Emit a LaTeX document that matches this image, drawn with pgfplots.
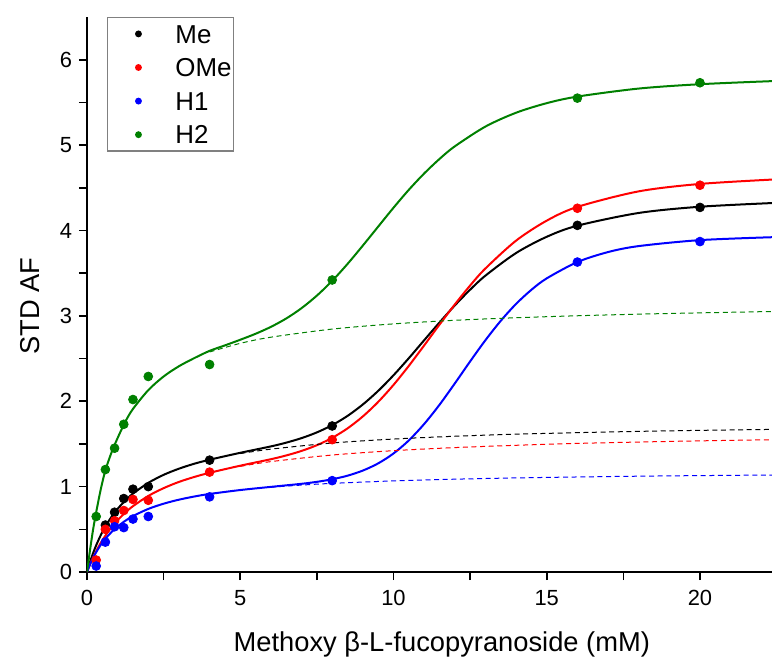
\documentclass[border=0pt]{standalone}
\usepackage{fontspec}
\setmainfont{Liberation Sans}
\usepackage{pgfplots}
\pgfplotsset{compat=1.18}
\definecolor{orgreen}{RGB}{0,128,0}

\begin{document}
\begin{tikzpicture}
\begin{axis}[
    scale only axis, width=342.5bp, height=277.5bp,
    xmin=0, xmax=22.35, ymin=0, ymax=6.5,
    axis x line=bottom, axis y line=left,
    axis line style={line width=1bp, -},
    xtick={0,5,...,20}, ytick={0,1,...,6},
    minor tick num=1,
    tick align=outside,
    major tick length=4bp, minor tick length=4bp,
    every tick/.style={line width=0.8bp, black},
    tick label style={font=\fontsize{11}{13}\selectfont},
    xticklabel shift=1.5bp,
    /pgf/number format/assume math mode=true,
    xlabel={Methoxy β-L-fucopyranoside (mM)},
    ylabel={STD AF},
    label style={font=\fontsize{13.7}{16}\selectfont},
    xlabel style={at={(axis description cs:0.518,-0.144)}, anchor=base},
    ylabel style={at={(axis description cs:-0.083,0.479)}, anchor=center, rotate=0},
    legend style={at={(axis description cs:0.029,1.0)}, anchor=north west,
        draw=gray, line width=0.6bp, inner xsep=0bp, inner ysep=1bp,
        font=\fontsize{13}{16}\selectfont, row sep=2.5bp,
        nodes={inner sep=1bp, text height=10.8bp}},
    legend cell align=left,
    legend image code/.code={\path[draw=none,fill=none] (0bp,0bp) -- (33bp,0bp);
        \draw[#1, mark size=1.4bp] plot coordinates {(15.5bp,0bp)};},
]
% fitted curves (two-site), solid
\addplot[black, line width=1bp, smooth, tension=0.5, forget plot] coordinates {
(0,0) (0.1,0.118) (0.2,0.222) (0.3,0.313) (0.45,0.432) (0.6,0.533) (0.8,0.646)
(1,0.740) (1.25,0.837) (1.5,0.918) (2,1.044) (2.5,1.138) (3,1.210) (3.5,1.268)
(4,1.315) (5,1.396) (6,1.471) (6.5,1.515) (7,1.568) (7.5,1.635) (8,1.720)
(8.5,1.828) (9,1.962) (9.5,2.121) (10,2.304) (10.5,2.504) (11,2.714) (11.5,2.922)
(12,3.122) (12.5,3.306) (13,3.471) (14,3.736) (15,3.926) (16,4.056) (18,4.205)
(20,4.278) (22.35,4.321)};
\addplot[red, line width=1bp, smooth, tension=0.5, forget plot] coordinates {
(0,0) (0.1,0.090) (0.2,0.171) (0.3,0.244) (0.45,0.342) (0.6,0.426) (0.8,0.524)
(1,0.607) (1.25,0.696) (1.5,0.771) (2,0.891) (2.5,0.982) (3,1.055) (3.5,1.113)
(4,1.162) (5,1.245) (6,1.321) (6.5,1.365) (7,1.418) (7.5,1.485) (8,1.571)
(8.5,1.682) (9,1.822) (9.5,1.992) (10,2.191) (10.5,2.414) (11,2.653) (11.5,2.897)
(12,3.133) (12.5,3.355) (13,3.555) (14,3.881) (15,4.115) (16,4.276) (18,4.458)
(20,4.545) (22.35,4.596)};
\addplot[blue, line width=1bp, smooth, tension=0.5, forget plot] coordinates {
(0,0) (0.1,0.089) (0.2,0.166) (0.3,0.232) (0.45,0.318) (0.6,0.389) (0.8,0.468)
(1,0.533) (1.25,0.600) (1.5,0.655) (2,0.739) (2.5,0.800) (3,0.847) (3.5,0.884)
(4,0.914) (5,0.960) (6,0.997) (7,1.033) (7.5,1.056) (8,1.086) (8.5,1.128)
(9,1.188) (9.5,1.272) (10,1.388) (10.5,1.541) (11,1.733) (11.5,1.958) (12,2.208)
(12.5,2.466) (13,2.715) (13.5,2.942) (14,3.140) (14.5,3.305) (15,3.439) (16,3.630)
(17,3.747) (18,3.817) (20,3.887) (22.35,3.921)};
\addplot[orgreen, line width=1bp, smooth, tension=0.5, forget plot] coordinates {
(0,0) (0.1,0.26) (0.2,0.50) (0.3,0.70) (0.45,0.97) (0.6,1.19) (0.8,1.40)
(1,1.57) (1.25,1.76) (1.5,1.91) (2,2.13) (2.5,2.29) (3,2.41) (3.5,2.505)
(4,2.59) (4.5,2.654) (5,2.720) (5.5,2.790) (6,2.871) (6.5,2.969) (7,3.090)
(7.5,3.237) (8,3.410) (8.5,3.608) (9,3.823) (9.5,4.045) (10,4.266) (10.5,4.476)
(11,4.667) (11.5,4.837) (12,4.985) (13,5.217) (14,5.379) (15,5.491) (16,5.568)
(18,5.662) (20,5.713) (22.35,5.749)};
% first-site curves, dashed
\addplot[black, line width=0.5bp, dash pattern=on 2.5bp off 1.8bp, smooth, forget plot] coordinates {
(5,1.387) (6,1.439) (8,1.511) (10,1.557) (12,1.590) (14,1.614) (16,1.632) (18,1.647) (20,1.659) (22.35,1.670)};
\addplot[red, line width=0.5bp, dash pattern=on 2.5bp off 1.8bp, smooth, forget plot] coordinates {
(5,1.237) (6,1.293) (8,1.370) (10,1.421) (12,1.457) (14,1.484) (16,1.506) (18,1.522) (20,1.536) (22.35,1.549)};
\addplot[blue, line width=0.5bp, dash pattern=on 2.5bp off 1.8bp, smooth, forget plot] coordinates {
(6,0.993) (7,1.018) (8,1.038) (10,1.067) (12,1.087) (14,1.102) (16,1.113) (18,1.122) (20,1.129) (22.35,1.136)};
\addplot[orgreen, line width=0.5bp, dash pattern=on 2.5bp off 1.8bp, smooth, forget plot] coordinates {
(4,2.577) (5,2.678) (6,2.750) (8,2.845) (10,2.906) (12,2.948) (14,2.978) (16,3.001) (18,3.020) (20,3.035) (22.35,3.051)};
% measured points
\addplot[only marks, mark=*, mark size=2.2bp, black] coordinates {
(0.6,0.55) (0.9,0.70) (1.2,0.86) (1.5,0.97) (2,1.00) (4,1.31) (8,1.71) (16,4.06) (20,4.27)};
\addplot[only marks, mark=*, mark size=2.2bp, red] coordinates {
(0.3,0.14) (0.6,0.50) (0.9,0.60) (1.2,0.72) (1.5,0.85) (2,0.84) (4,1.17) (8,1.55) (16,4.26) (20,4.53)};
\addplot[only marks, mark=*, mark size=2.2bp, blue] coordinates {
(0.3,0.07) (0.6,0.35) (0.9,0.53) (1.2,0.52) (1.5,0.62) (2,0.65) (4,0.88) (8,1.07) (16,3.63) (20,3.87)};
\addplot[only marks, mark=*, mark size=2.2bp, orgreen] coordinates {
(0.3,0.65) (0.6,1.20) (0.9,1.45) (1.2,1.73) (1.5,2.02) (2,2.29) (4,2.43) (8,3.42) (16,5.55) (20,5.73)};
\legend{Me, OMe, H1, H2}
\end{axis}
\pgfresetboundingbox
\path (-43.5bp,-44.5bp) rectangle (342.5bp,286bp);
\end{tikzpicture}
\end{document}
